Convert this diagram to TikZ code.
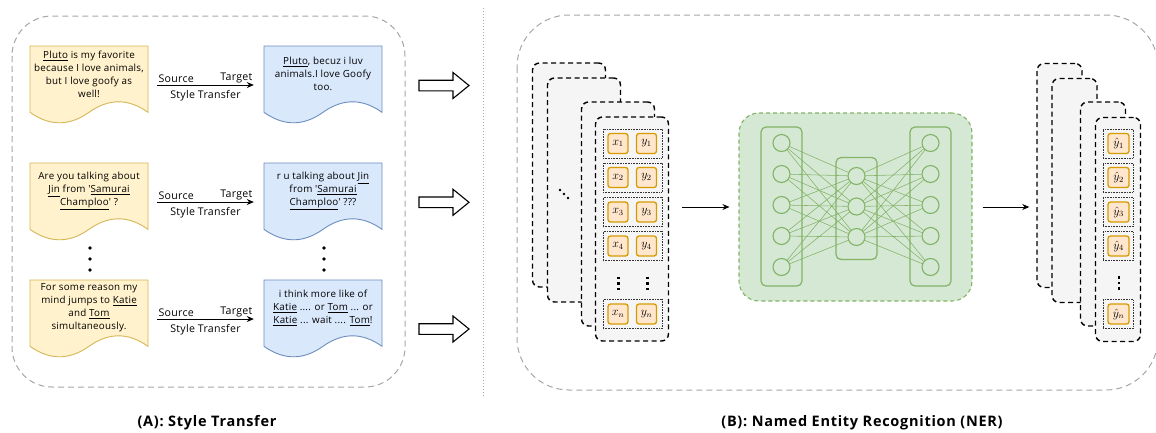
\documentclass[tikz,border=0pt]{standalone}
\usepackage[no-math]{fontspec}
\setmainfont{Open Sans}
\usetikzlibrary{arrows.meta,calc}
\definecolor{ylwF}{HTML}{FFF2CC}
\definecolor{ylwD}{HTML}{D6B656}
\definecolor{bluF}{HTML}{DAE8FC}
\definecolor{bluD}{HTML}{6C8EBF}
\definecolor{stackgray}{HTML}{F5F5F5}
\definecolor{tokD}{HTML}{D79B00}
\definecolor{tokF}{HTML}{FFE6CC}
\definecolor{netG}{HTML}{82B366}
\definecolor{netF}{HTML}{D5E8D4}
\definecolor{outerG}{HTML}{A6A6A6}
\newcommand\wdoc[5]{%
  \begin{scope}[shift={(#2,#3)}]
    \draw[#4] (0,0) -- (118,0) -- (118,66.3) .. controls (98.3,52.3) and (78.7,52.3) .. (59,66.3)
      .. controls (39.3,80.3) and (19.7,80.3) .. (0,66.3) -- cycle;
    \node[docarea] (#1) at (59,39) {};
    \node[doctext] (#1t) at (59,28) {#5};
  \end{scope}}
\newcommand\harrow[1]{%
  \draw[hollowarr] (419,#1-5.3) -- (453,#1-5.3) -- (453,#1-13) -- (469,#1) -- (453,#1+13)
    -- (453,#1+5.3) -- (419,#1+5.3) -- cycle;}
\newcommand\ul[1]{\underline{#1}}
\newcommand\q{\textquotesingle}
\begin{document}
\begin{tikzpicture}[x=1pt,y=-1pt,
  outerbox/.style={draw=outerG, dash pattern=on 6pt off 4pt, line width=1pt},
  yellowdoc/.style={draw=ylwD, fill=ylwF, line width=0.9pt},
  bluedoc/.style={draw=bluD, fill=bluF, line width=0.9pt},
  docarea/.style={minimum width=118pt, minimum height=78pt, inner sep=0pt, draw=none},
  doctext/.style={align=center, font=\fontsize{9.8}{12.9}\selectfont\addfontfeatures{LetterSpace=2.5}, inner sep=0pt},
  lbl/.style={font=\fontsize{10.6}{12}\selectfont\addfontfeatures{LetterSpace=2.5}, inner sep=1pt},
  conn/.style={-{Stealth[length=7pt,width=6pt]}, line width=0.9pt},
  hollowarr/.style={draw=black, fill=white, line width=1.1pt, line join=miter},
  stackbox/.style={draw=black, fill=stackgray, dash pattern=on 5pt off 3.5pt, line width=1.4pt,
     rounded corners=7pt, minimum height=224pt, inner sep=0pt},
  rowbox/.style={draw=black!80, densely dotted, line width=0.6pt, minimum height=29pt, inner sep=0pt},
  tok/.style={draw=tokD, fill=tokF, line width=1.3pt, rounded corners=2.5pt, minimum width=20pt,
     minimum height=20pt, inner sep=0pt, font=\large},
  netbox/.style={draw=netG, fill=netF, dash pattern=on 4pt off 3pt, line width=1.1pt, rounded corners=20pt,
     minimum width=233pt, minimum height=188pt, inner sep=0pt},
  colbox/.style={draw=netG, line width=1.2pt, rounded corners=5pt, minimum width=41pt, inner sep=0pt},
  neuron/.style={circle, draw=netG, line width=1.1pt, minimum size=17pt, inner sep=0pt},
  netline/.style={draw=netG, line width=0.55pt},
  caption/.style={font=\bfseries\fontsize{14.5}{16}\selectfont\addfontfeatures{LetterSpace=5}}
]
\useasboundingbox (0,0) rectangle (1156,432);

% outer boxes
\draw[outerbox, rounded corners=40pt] (12,16) rectangle (405,387);
\draw[outerbox, rounded corners=52pt] (517,15) rectangle (1158,390);
\draw[outerG, dotted, line width=1pt] (483,8) -- (483,397);

% documents
\wdoc{y1}{30}{46}{yellowdoc}{\ul{Pluto} is my favorite\\because I love animals,\\but I love goofy as\\well!}
\wdoc{b1}{264}{46}{bluedoc}{\ul{Pluto}, becuz i luv\\animals.I love Goofy\\too.}
\wdoc{y2}{30}{163}{yellowdoc}{Are you talking about\\\ul{Jin} from \q\ul{Samurai}\\\ul{Champloo}\q\ ?}
\wdoc{b2}{264}{163}{bluedoc}{r u talking about \ul{Jin}\\from \q\ul{Samurai}\\\ul{Champloo}\q\ ???}
\wdoc{y3}{30}{280}{yellowdoc}{For some reason my\\mind jumps to \ul{Katie}\\and \ul{Tom}\\simultaneously.}
\wdoc{b3}{264}{280}{bluedoc}{i think more like of\\\ul{Katie} .... or \ul{Tom} ... or\\\ul{Katie} ... wait .... \ul{Tom}!}

\foreach \a/\b in {y1/b1,y2/b2,y3/b3}{
  \draw[conn] ([xshift=9pt]\a.east) -- ([xshift=-10pt]\b.west)
    node[lbl, pos=0, anchor=south west, yshift=0.5pt] (src\a) {Source}
    node[lbl, pos=1, anchor=south east, yshift=0.5pt] (tgt\a) {Target}
    node[lbl, midway, anchor=north, yshift=-4pt] (st\a) {Style Transfer};
}
% vertical dots
\foreach \x in {90,324}{
  \foreach \y in {248,259,270}{\fill (\x,\y) circle (1.8pt);}
}

% hollow arrows
\harrow{85.5}
\harrow{202.3}
\harrow{329}

% left stack
\node[stackbox, minimum width=73pt] (L1) at (569,175) {};
\node[stackbox, minimum width=73pt] (L2) at (584,190) {};
\node[stackbox, minimum width=73pt] (L3) at (618,214) {};
\node[stackbox, minimum width=73pt] (L4) at (632,229) {};
\foreach \i/\y in {1/143.5,2/177.5,3/212,4/246}{
  \node[rowbox, minimum width=59pt] (row\i) at (632.5,\y) {};
  \node[tok] (x\i) at (618,\y) {$x_{\i}$};
  \node[tok] (yy\i) at (646.5,\y) {$y_{\i}$};
}
\node[rowbox, minimum width=59pt] (rown) at (632.5,314) {};
\node[tok] (xn) at (618,314) {$x_n$};
\node[tok] (yyn) at (646.5,314) {$y_n$};
\foreach \x in {618.5,647.5}{
  \foreach \y in {278,283.5,289}{\fill (\x-1.2,\y-1.2) rectangle (\x+1.2,\y+1.2);}
}
\foreach \p in {(560,190),(564,194),(568,198),(1063,190),(1067,194),(1071,198)}{\fill \p circle (1.3pt);}

% network
\node[netbox] (G) at (855.5,207) {};
\node[colbox, minimum height=159pt] (CL) at (781.5,206.5) {};
\node[colbox, minimum height=102pt] (CM) at (856.5,208.5) {};
\node[colbox, minimum height=159pt] (CR) at (930.5,206.5) {};
\foreach \i/\y in {1/143,2/174,3/205,4/236,5/267}{
  \node[neuron] (nl\i) at (781.5,\y) {};
  \node[neuron] (nr\i) at (930.5,\y) {};
}
\foreach \i/\y in {1/176,2/206.5,3/237}{
  \node[neuron] (nm\i) at (856.5,\y) {};
}
\foreach \i in {1,...,5}{
  \foreach \j in {1,2,3}{
    \draw[netline] (nl\i) -- (nm\j);
    \draw[netline] (nm\j) -- (nr\i);
  }
}

% right stack
\node[stackbox, minimum width=45pt] (R1) at (1059.5,175.5) {};
\node[stackbox, minimum width=45pt] (R2) at (1074.5,190.5) {};
\node[stackbox, minimum width=45pt] (R3) at (1103,214) {};
\node[stackbox, minimum width=45pt] (R4) at (1118,229.5) {};
\foreach \i/\y in {1/143.5,2/177.5,3/212,4/246}{
  \node[rowbox, minimum width=30pt] (rrow\i) at (1118,\y) {};
  \node[tok, minimum width=21pt] (yh\i) at (1118.5,\y) {$\hat{y}_{\i}$};
}
\node[rowbox, minimum width=30pt] (rrown) at (1118,314) {};
\node[tok, minimum width=21pt] (yhn) at (1118.5,314) {$\hat{y}_n$};
\foreach \y in {277.5,283,288.5}{\fill (1119-1.2,\y-1.2) rectangle (1119+1.2,\y+1.2);}

% connectors
\draw[conn] ($(L4.east |- G.west)+(13,0)$) -- ([xshift=-9pt]G.west);
\draw[conn] ([xshift=10pt]G.east) -- ($(R1.west |- G.east)+(-7,0)$);

% captions
\node[caption] (capA) at (207,423) {(A): Style Transfer};
\node[caption] (capB) at (862,423) {(B): Named Entity Recognition (NER)};
\end{tikzpicture}
\end{document}
